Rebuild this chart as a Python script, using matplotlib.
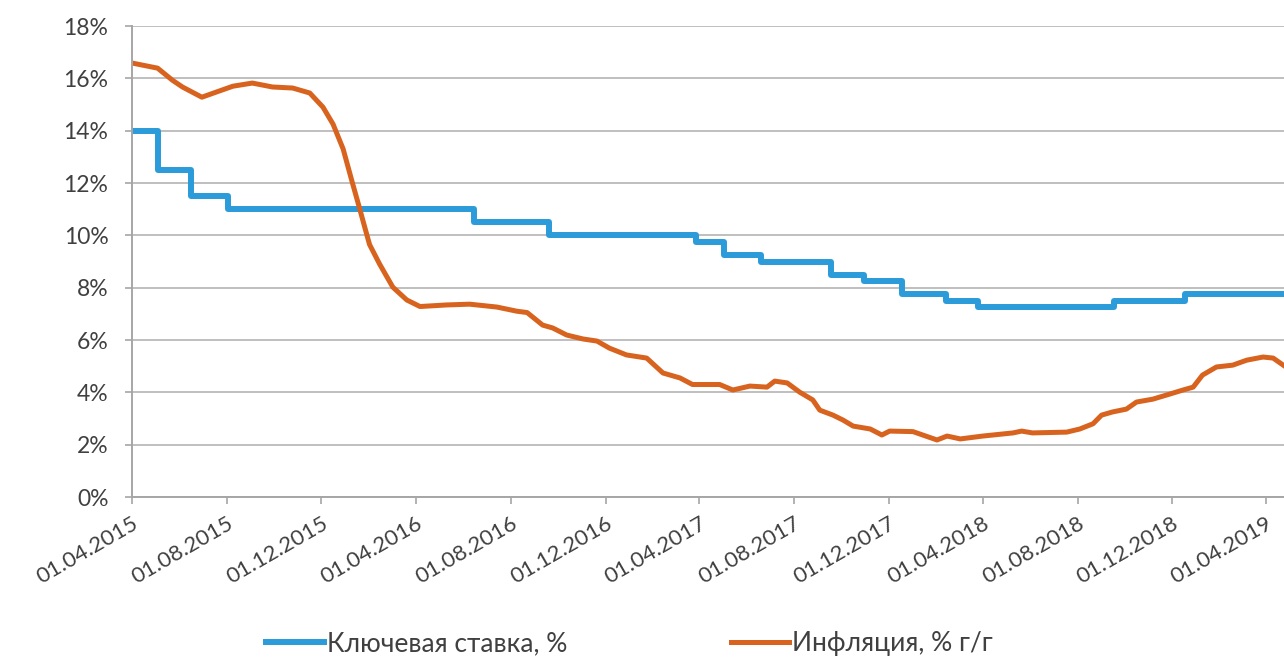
import matplotlib
matplotlib.use("Agg")
import matplotlib.pyplot as plt
import matplotlib.ticker as ticker
import pandas as pd

# Key rate (steps), date of change -> value, %
rate_dates = ["2015-04-01", "2015-05-05", "2015-06-16", "2015-08-03", "2016-06-14",
              "2016-09-19", "2017-03-27", "2017-05-02", "2017-06-19", "2017-09-18",
              "2017-10-30", "2017-12-18", "2018-02-12", "2018-03-26", "2018-09-17",
              "2018-12-17", "2019-04-24"]
rate_vals = [14.0, 12.5, 11.5, 11.0, 10.5, 10.0, 9.75, 9.25, 9.0, 8.5,
             8.25, 7.75, 7.5, 7.25, 7.5, 7.75, 7.75]

# Inflation y/y, %
infl_dates = ["2015-04-02", "2015-05-04", "2015-05-23", "2015-06-05", "2015-06-30",
              "2015-07-19", "2015-08-09", "2015-09-03", "2015-09-29", "2015-10-25",
              "2015-11-16", "2015-12-03", "2015-12-16", "2015-12-29", "2016-01-10",
              "2016-01-19", "2016-01-25", "2016-02-01", "2016-02-14", "2016-03-02",
              "2016-03-20", "2016-04-06", "2016-05-10", "2016-06-09", "2016-07-14",
              "2016-08-09", "2016-08-22", "2016-09-11", "2016-09-24", "2016-10-12",
              "2016-11-02", "2016-11-20", "2016-12-06", "2016-12-28", "2017-01-23",
              "2017-02-13", "2017-03-07", "2017-03-23", "2017-04-27", "2017-05-14",
              "2017-06-05", "2017-06-27", "2017-07-07", "2017-07-23", "2017-08-08",
              "2017-08-25", "2017-09-03", "2017-09-20", "2017-10-03", "2017-10-16",
              "2017-11-07", "2017-11-22", "2017-12-02", "2018-01-01", "2018-02-01",
              "2018-02-14", "2018-03-03", "2018-04-01", "2018-05-10", "2018-05-21",
              "2018-06-04", "2018-07-18", "2018-08-04", "2018-08-21", "2018-09-01",
              "2018-09-15", "2018-10-03", "2018-10-16", "2018-11-06", "2018-11-24",
              "2018-12-15", "2018-12-28", "2019-01-09", "2019-01-27", "2019-02-17",
              "2019-03-07", "2019-03-28", "2019-04-10", "2019-04-23"]
infl_vals = [16.58, 16.39, 15.93, 15.67, 15.28,
             15.48, 15.70, 15.82, 15.67, 15.63,
             15.44, 14.90, 14.25, 13.30, 12.00,
             11.05, 10.40, 9.65, 8.90, 8.02,
             7.53, 7.28, 7.34, 7.37, 7.26,
             7.10, 7.05, 6.57, 6.46, 6.19,
             6.04, 5.96, 5.69, 5.43, 5.31,
             4.74, 4.55, 4.30, 4.30, 4.09,
             4.24, 4.20, 4.43, 4.36, 4.01,
             3.71, 3.32, 3.13, 2.94, 2.71,
             2.60, 2.37, 2.52, 2.50, 2.18,
             2.33, 2.22, 2.33, 2.45, 2.52,
             2.45, 2.48, 2.60, 2.80, 3.13,
             3.25, 3.36, 3.63, 3.74, 3.90,
             4.09, 4.20, 4.66, 4.97, 5.04,
             5.23, 5.35, 5.31, 5.04]

tick_labels = ["01.04.2015", "01.08.2015", "01.12.2015", "01.04.2016", "01.08.2016",
               "01.12.2016", "01.04.2017", "01.08.2017", "01.12.2017", "01.04.2018",
               "01.08.2018", "01.12.2018", "01.04.2019"]

plt.rcParams['font.family'] = ['Lato', 'DejaVu Sans']

fig = plt.figure(figsize=(12.84, 6.57), dpi=100)
ax = fig.add_axes([0.1028, 0.2435, 0.8972, 0.7169])

ax.plot(pd.to_datetime(rate_dates), rate_vals, drawstyle='steps-post',
        color='#2B9BD9', linewidth=4.3, label='Ключевая ставка, %')
ax.plot(pd.to_datetime(infl_dates), infl_vals, color='#D8631F',
        linewidth=3.6, label='Инфляция, % г/г')

ax.set_ylim(0, 18)
ax.set_xlim(pd.Timestamp("2015-04-01"), pd.Timestamp("2019-04-24"))
ax.yaxis.set_major_locator(ticker.MultipleLocator(2))
ax.yaxis.set_major_formatter(ticker.FuncFormatter(lambda v, p: "{:.0f}%".format(v)))
ax.grid(axis='y', color='#BFBFBF', linewidth=1.4)
ax.set_axisbelow(True)

ticks = pd.to_datetime(tick_labels, format="%d.%m.%Y")
ax.set_xticks(ticks)
ax.set_xticklabels(tick_labels, rotation=30, ha='right', rotation_mode='anchor')

for s in ['top', 'right']:
    ax.spines[s].set_visible(False)
for s in ['left', 'bottom']:
    ax.spines[s].set_color('#A6A6A6')
    ax.spines[s].set_linewidth(1.4)
ax.tick_params(axis='y', length=5, color='#A6A6A6', width=1.2, pad=12,
               labelsize=16.5, labelcolor='#404040')
ax.tick_params(axis='x', length=5, color='#A6A6A6', width=1.2, pad=7,
               labelsize=16, labelcolor='#404040')

fig.legend(loc='lower center', bbox_to_anchor=(0.49, -0.035), ncol=2, frameon=False,
           fontsize=19, handlelength=2.2, handletextpad=0.1, columnspacing=6.2,
           labelcolor='#404040')

fig.savefig('out.png', dpi=100)
